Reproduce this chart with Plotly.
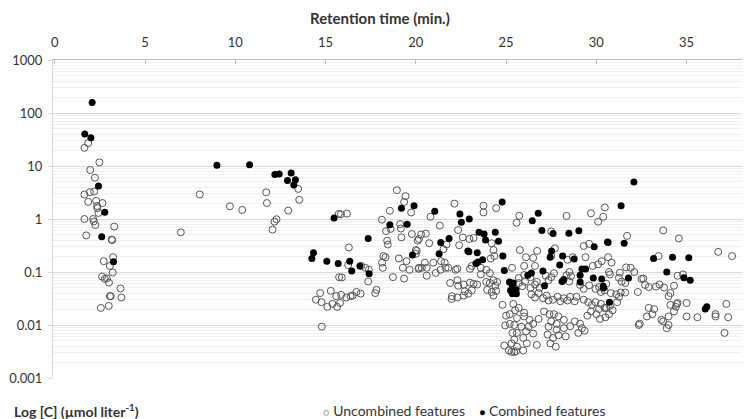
import plotly.graph_objects as go

# ---------------- data ----------------
# Combined features (filled black)
combined_time = [
    2.07, 1.66, 2.0, 2.42, 2.77, 2.6, 3.25,
    8.98, 10.79, 12.19, 12.43, 13.09, 12.89, 13.33, 13.24,
    15.47, 14.33, 14.24, 15.07, 15.7, 16.34, 16.45, 16.9, 17.41, 17.36,
    19.2, 18.56, 19.52, 19.9, 19.81,
    24.78, 21.05, 22.44, 22.52, 22.96, 23.5, 23.78, 23.86, 24.4, 24.58, 21.84, 21.38, 21.29,
    22.88, 22.94, 23.4, 23.44, 23.33, 23.7, 24.82, 24.9, 25.19, 25.3, 25.25,
    26.78, 26.45, 26.98, 27.6, 28.48, 29.03, 30.62, 27.52, 27.44, 28.13, 28.77, 27.97, 29.88,
    29.2, 29.4, 29.1, 29.1, 27.04, 26.4, 26.2, 25.4, 25.35, 25.55, 25.35, 25.57, 27.13,
    28.1, 28.2, 29.83, 30.3, 30.38, 30.73,
    32.08, 31.37, 30.65, 31.54, 33.17, 34.22, 35.12, 33.9, 34.85, 35.2, 31.78, 36.03, 36.12, 30.4,
]
combined_conc = [
    158, 40, 34, 4.2, 1.34, 0.46, 0.156,
    10.3, 10.6, 6.9, 7.1, 7.4, 5.3, 5.5, 4.4,
    1.04, 0.23, 0.18, 0.16, 0.145, 0.16, 0.105, 0.13, 0.093, 0.43,
    1.6, 0.78, 0.8, 1.78, 0.21,
    2.1, 1.4, 1.24, 0.87, 1.0, 0.56, 0.52, 0.4, 0.56, 0.38, 0.43, 0.36, 0.22,
    0.25, 0.24, 0.23, 0.155, 0.145, 0.17, 0.2, 0.107, 0.065, 0.06, 0.045,
    1.28, 0.93, 0.61, 0.53, 0.54, 0.6, 0.37, 0.25, 0.19, 0.2, 0.175, 0.135, 0.3,
    0.114, 0.114, 0.087, 0.065, 0.105, 0.096, 0.087, 0.062, 0.057, 0.046, 0.039, 0.039, 0.055,
    0.066, 0.072, 0.077, 0.074, 0.054, 0.027,
    5.0, 1.78, 0.36, 0.35, 0.18, 0.19, 0.185, 0.1, 0.078, 0.07, 0.077, 0.02, 0.022, 0.05,
]

# Uncombined features (open circles)
uncombined_time = [
    # 0-5 min
    1.85, 1.64, 2.47, 1.96, 2.22, 1.64, 1.94, 2.18, 1.85, 2.29, 2.64, 2.34, 2.36, 2.42, 1.64,
    2.12, 2.16, 2.25, 3.29, 1.74, 3.18, 3.15, 3.23, 2.71, 3.05, 3.21, 2.62, 2.77, 2.88, 3.0,
    3.64, 3.05, 3.1, 3.69, 2.99, 2.55,
    # 5-16 min
    8.03, 9.7, 10.38, 6.98, 11.71, 11.75, 13.48, 13.54, 12.93, 12.28, 12.17, 12.06, 15.73,
    15.75, 14.7, 15.29, 14.46, 14.77, 15.1, 15.38, 15.59, 15.64,
    # 15-20 min
    15.85, 16.18, 16.29, 16.25, 16.98, 17.2, 17.4, 15.9, 17.36, 17.82, 17.75, 15.8, 15.86,
    16.14, 16.38, 16.71, 16.5, 16.94, 14.79,
    18.95, 19.43, 19.35, 18.56, 19.74, 18.12, 19.13, 19.17, 18.35, 18.6, 19.78, 19.2, 18.41,
    18.45, 20.17, 20.0, 18.2, 18.32, 18.13, 18.17, 19.06, 19.48, 19.28, 19.65, 18.73, 19.35, 20.15,
    # 20-25 min
    22.14, 23.75, 23.75, 24.45, 20.81, 22.34, 22.97, 23.2, 21.33, 20.29, 20.55, 20.1, 20.05,
    20.0, 20.74, 21.7, 21.53, 22.4, 22.6, 24.2, 24.3, 24.35, 24.15, 20.5, 20.97, 21.4, 21.6,
    21.65, 20.17, 20.33, 20.6, 20.6, 21.1, 21.37, 21.8, 22.2, 22.3, 23.0, 23.1, 23.6, 23.9,
    24.1, 23.6, 24.3, 24.5, 24.4, 21.9, 22.3, 22.35, 22.65, 23.0, 23.2, 23.4, 22.0, 21.98,
    22.3, 22.65, 22.9, 23.1, 22.7, 23.9, 24.1, 23.95, 24.2, 24.3, 24.45, 24.8, 25.0, 25.2,
    24.95, 25.2, 25.35, 24.9, 25.15, 25.3, 25.45,
    # 25-31 min
    25.73, 25.58, 28.35, 29.7, 30.1, 30.38, 30.47, 27.5, 25.76, 26.72, 25.33, 27.7, 27.5,
    28.4, 28.7, 29.3, 29.6, 29.4, 29.8, 30.1, 30.3, 26.1, 26.5, 26.6, 26.0, 26.0, 26.35,
    25.7, 25.7, 25.9, 26.05, 26.7, 26.35, 26.6, 26.85, 27.2, 27.5, 27.65, 27.35, 28.35,
    28.5, 28.6, 28.5, 29.1, 29.3, 29.6, 29.95, 30.25, 30.15, 30.55, 30.45,
    26.4, 26.6, 26.8, 27.05, 27.25, 27.35, 27.6, 27.85, 28.0, 28.2, 28.4, 28.55, 28.8,
    28.9, 29.3, 29.55, 29.75, 29.95, 30.25, 30.45, 30.15,
    25.4, 25.5, 25.7, 26.0, 25.6, 26.0, 26.3, 26.5, 26.8, 25.45, 25.85, 26.25, 25.6, 26.1,
    26.5, 25.45, 25.95, 26.15, 26.7, 25.95, 25.6, 25.3, 25.55,
    27.1, 27.4, 27.65, 27.9, 27.5, 27.8, 28.2, 27.35, 27.8, 28.2, 28.55, 28.8, 29.1, 29.2,
    29.0, 29.35, 27.3, 27.6, 27.9, 28.3, 27.45, 27.75,
    29.5, 29.7, 30.0, 30.2, 30.5, 30.7,
    # 30-38 min
    31.7, 33.7, 34.57, 36.75, 37.52, 33.45, 30.65, 30.84, 30.7, 30.75, 31.65, 31.9, 32.1,
    32.6, 31.3, 31.25, 31.4, 31.6, 32.7, 32.9, 33.3, 33.5, 33.75, 34.3, 34.8, 34.5, 34.1,
    30.8, 31.1, 31.35, 31.25, 31.6, 31.15, 30.75, 30.55, 30.9, 32.3, 32.9, 33.2, 33.1, 32.8,
    32.4, 32.35, 33.6, 33.7, 34.0, 33.9, 34.0, 34.1, 34.4, 34.5, 34.3, 35.0, 35.0, 35.6,
    36.6, 36.6, 37.3, 37.2, 37.1, 34.0, 32.5, 34.45,
]
uncombined_conc = [
    # 0-5 min
    27, 22, 11.7, 8.4, 6.0, 2.9, 3.2, 3.3, 2.1, 2.2, 2.0, 1.76, 1.6, 1.3, 1.0,
    1.0, 0.9, 0.77, 0.72, 0.49, 0.4, 0.41, 0.19, 0.16, 0.13, 0.098, 0.082, 0.074, 0.076, 0.063,
    0.049, 0.035, 0.035, 0.033, 0.023, 0.021,
    # 5-16 min
    2.9, 1.74, 1.48, 0.56, 3.2, 2.0, 3.7, 2.3, 1.44, 0.99, 0.89, 0.63, 1.25,
    0.08, 0.04, 0.044, 0.03, 0.027, 0.022, 0.025, 0.035, 0.022,
    # 15-20 min
    1.23, 1.26, 0.29, 0.135, 0.13, 0.12, 0.11, 0.079, 0.066, 0.046, 0.04, 0.026, 0.037,
    0.033, 0.035, 0.042, 0.036, 0.039, 0.0093,
    3.5, 2.7, 2.1, 1.43, 1.33, 0.97, 0.8, 0.66, 0.59, 0.65, 0.52, 0.45, 0.39,
    0.33, 0.42, 0.26, 0.2, 0.19, 0.15, 0.12, 0.18, 0.16, 0.12, 0.11, 0.08, 0.075, 0.115,
    # 20-25 min
    1.95, 1.78, 1.33, 1.6, 1.1, 0.62, 0.42, 0.44, 0.75, 0.51, 0.53, 0.39, 0.25,
    0.22, 0.35, 0.33, 0.27, 0.32, 0.45, 0.35, 0.26, 0.2, 0.18, 0.15, 0.15, 0.16, 0.15,
    0.12, 0.12, 0.12, 0.12, 0.085, 0.096, 0.11, 0.12, 0.11, 0.115, 0.115, 0.13, 0.12, 0.11,
    0.095, 0.09, 0.07, 0.065, 0.055, 0.062, 0.07, 0.055, 0.058, 0.063, 0.06, 0.058, 0.035, 0.031,
    0.033, 0.036, 0.039, 0.045, 0.043, 0.065, 0.062, 0.046, 0.042, 0.036, 0.044, 0.024, 0.015, 0.016,
    0.0098, 0.0105, 0.0071, 0.0041, 0.0033, 0.0045, 0.0031,
    # 25-31 min
    1.15, 0.85, 1.14, 1.28, 0.89, 1.1, 1.65, 0.58, 0.26, 0.25, 0.12, 0.28, 0.2,
    0.17, 0.19, 0.31, 0.34, 0.19, 0.13, 0.14, 0.16, 0.19, 0.185, 0.13, 0.13, 0.088, 0.08,
    0.077, 0.062, 0.054, 0.065, 0.065, 0.05, 0.058, 0.05, 0.085, 0.08, 0.095, 0.07, 0.087,
    0.1, 0.083, 0.066, 0.057, 0.048, 0.056, 0.048, 0.042, 0.052, 0.06, 0.045,
    0.038, 0.033, 0.04, 0.032, 0.036, 0.029, 0.03, 0.034, 0.028, 0.032, 0.029, 0.034, 0.028,
    0.034, 0.03, 0.027, 0.024, 0.027, 0.025, 0.021, 0.02,
    0.025, 0.019, 0.021, 0.017, 0.0135, 0.0145, 0.0125, 0.0105, 0.013, 0.01, 0.0093, 0.0093, 0.0071, 0.0076,
    0.0069, 0.0053, 0.0057, 0.0045, 0.0042, 0.0033, 0.0039, 0.0031, 0.0032,
    0.018, 0.016, 0.016, 0.0145, 0.0117, 0.0105, 0.0125, 0.0093, 0.0081, 0.0087, 0.0095, 0.0117, 0.0106, 0.0087,
    0.0071, 0.0078, 0.0066, 0.0057, 0.0064, 0.0061, 0.0045, 0.0039,
    0.015, 0.018, 0.016, 0.013, 0.014, 0.016,
    # 30-38 min
    0.48, 0.61, 0.43, 0.24, 0.2, 0.2, 0.19, 0.15, 0.1, 0.09, 0.122, 0.12, 0.1,
    0.075, 0.097, 0.078, 0.066, 0.062, 0.057, 0.052, 0.053, 0.058, 0.051, 0.055, 0.09, 0.085, 0.04,
    0.04, 0.038, 0.041, 0.034, 0.041, 0.027, 0.023, 0.021, 0.019, 0.042, 0.021, 0.02, 0.016, 0.0145,
    0.0106, 0.01, 0.0125, 0.0117, 0.01, 0.0087, 0.0145, 0.024, 0.022, 0.026, 0.018, 0.026, 0.0145, 0.014,
    0.016, 0.0145, 0.014, 0.025, 0.0071, 0.035, 0.074, 0.025,
]

x_ticks = [0, 5, 10, 15, 20, 25, 30, 35]
y_ticks = [0.001, 0.01, 0.1, 1, 10, 100, 1000]
y_tick_text = ["0.001", "0.01", "0.1", "1", "10", "100", "1000"]

FONT = "Lato"
TXT = "#333333"
TICK_FS = 13

fig = go.Figure()
fig.add_trace(go.Scatter(
    x=uncombined_time, y=uncombined_conc, mode="markers",
    name="Uncombined features",
    marker=dict(symbol="circle-open", size=7, color="#555555", line=dict(width=1)),
))
fig.add_trace(go.Scatter(
    x=combined_time, y=combined_conc, mode="markers",
    name="Combined features",
    marker=dict(symbol="circle", size=7, color="#000000"),
))

legend_text = (
    "<span style='font-size:10px;color:#9a9a9a'>○</span> Uncombined features"
    "\u00a0\u00a0\u00a0\u00a0"
    "<span style='font-size:10px;color:#000000'>●</span> Combined features"
)

# the page body has an 8px margin, so the figure is 8px smaller on each side
fig.update_layout(
    width=742, height=411,
    margin=dict(l=45, r=2, t=52, b=41, autoexpand=False),
    paper_bgcolor="white", plot_bgcolor="white",
    font=dict(family=FONT, size=14, color=TXT),
    showlegend=False,
    xaxis=dict(
        side="top", range=[-0.1, 38.4], tickvals=x_ticks,
        showgrid=False, zeroline=False, automargin=False,
        showline=True, linecolor="#bfbfbf", linewidth=1,
        ticks="inside", ticklen=4, tickcolor="#bfbfbf",
        ticklabelstandoff=7,
        tickfont=dict(family=FONT, size=TICK_FS, color=TXT),
    ),
    yaxis=dict(
        type="log", range=[-3, 3], tickvals=y_ticks, ticktext=y_tick_text,
        showgrid=True, gridcolor="#d9d9d9", gridwidth=1,
        zeroline=False, automargin=False,
        showline=True, linecolor="#d9d9d9", linewidth=1,
        ticks="outside", ticklen=4, tickcolor="#d9d9d9",
        ticklabelstandoff=3,
        tickfont=dict(family=FONT, size=TICK_FS, color=TXT),
        minor=dict(dtick="D1", showgrid=True, gridcolor="#f0f0f0", gridwidth=1, ticks=""),
    ),
    annotations=[
        dict(text="<b>Retention time (min.)</b>", xref="paper", yref="paper",
             x=0.4705, y=1.0, yshift=42, xanchor="center", yanchor="middle",
             showarrow=False, font=dict(family=FONT, size=15, color=TXT)),
        dict(text="<b>Log [C] (µmol liter<sup>-1</sup>)</b>", xref="paper", yref="paper",
             x=-0.059, y=0, yshift=-32, xanchor="left", yanchor="middle",
             showarrow=False, font=dict(family=FONT, size=14, color=TXT)),
        dict(text=legend_text, xref="paper", yref="paper",
             x=0.386, y=0, yshift=-32, xanchor="left", yanchor="middle",
             showarrow=False, font=dict(family=FONT, size=14, color=TXT)),
    ],
)

fig.write_html("out.html")
